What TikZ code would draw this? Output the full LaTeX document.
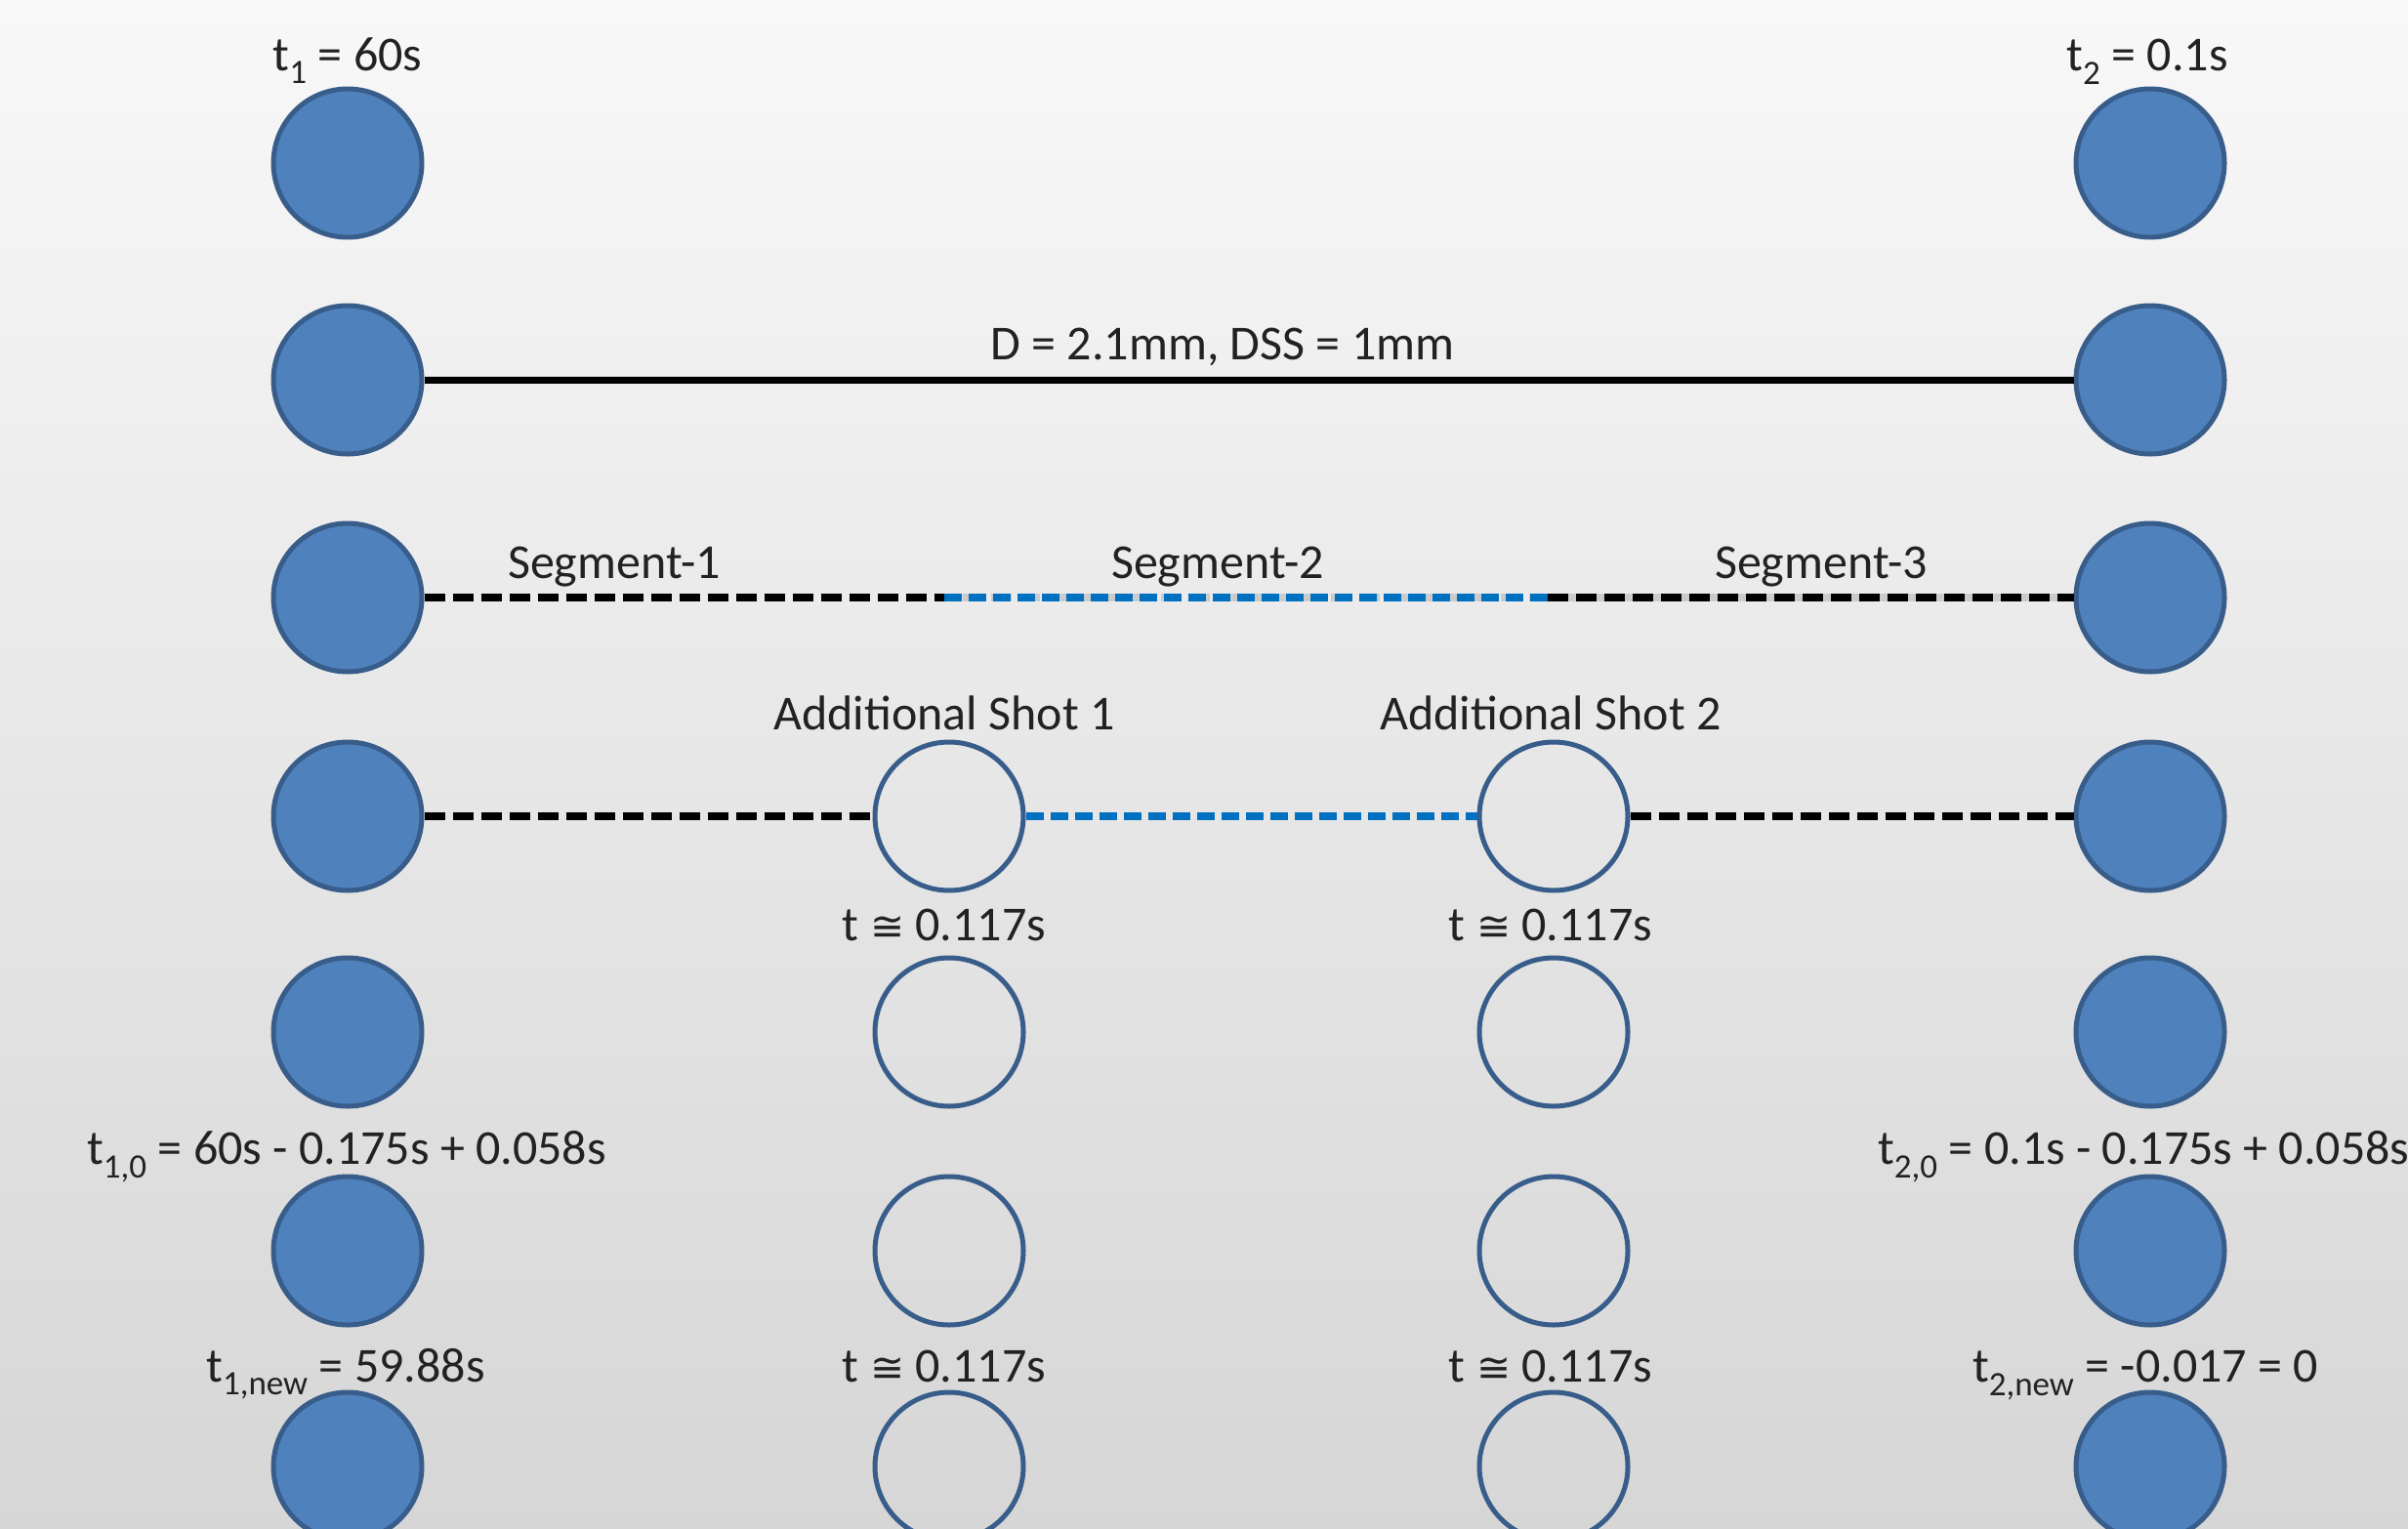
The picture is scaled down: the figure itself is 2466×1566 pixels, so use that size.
\documentclass[tikz,border=0pt]{standalone}
\usepackage{fontspec}
\setmainfont{Carlito}
\newfontfamily\djv{DejaVu Sans}
\definecolor{cfill}{HTML}{4F81BD}
\definecolor{cedge}{HTML}{385D8A}
\definecolor{cblue}{HTML}{0070C0}
\definecolor{ctext}{HTML}{222222}
\definecolor{bgtop}{HTML}{F8F8F8}
\definecolor{bgbot}{HTML}{D6D6D6}
\newcommand{\approxeq}{{\djv\fontsize{42}{50}\selectfont ≅}}
\tikzset{
  shot/.style={circle, draw=cedge, fill=cfill, line width=5pt, minimum size=152pt, inner sep=0pt},
  newshot/.style={circle, draw=cedge, line width=5pt, minimum size=152pt, inner sep=0pt},
  lbl/.style={text=ctext, font=\fontsize{50}{60}\selectfont, inner sep=0pt, anchor=base},
  solidln/.style={line width=7pt, black},
  blkdash/.style={line width=8pt, black, dash pattern=on 21pt off 8pt},
  bludash/.style={line width=8pt, cblue, dash pattern=on 18pt off 7pt},
  shadowln/.style={line width=8pt, black!30, opacity=0.55, yshift=-12pt}
}
\begin{document}
\begin{tikzpicture}[x=1pt,y=-1pt]
\useasboundingbox (0,0) rectangle (2466,1566);
\shade[top color=bgtop, bottom color=bgbot] (0,0) rectangle (2466,1566);
\clip (0,0) rectangle (2466,1566);

% columns: 356, 972, 1591, 2202 ; rows: 167, 389, 612, 836, 1057, 1281, 1502
\foreach \r/\y in {1/167,2/389,3/612,4/836,5/1057,6/1281,7/1502}{
  \node[shot] (L\r) at (356,\y) {};
  \node[shot] (R\r) at (2202,\y) {};
}
\foreach \r/\y in {4/836,5/1057,6/1281,7/1502}{
  \node[newshot] (A\r) at (972,\y) {};
  \node[newshot] (B\r) at (1591,\y) {};
}
\coordinate (m1) at (967,612);
\coordinate (m2) at (1585,612);

% shadows
\draw[shadowln] (L2) -- (R2);
\draw[shadowln, dash pattern=on 21pt off 8pt] (L3) -- (R3);
\draw[shadowln, dash pattern=on 21pt off 8pt] (L4) -- (A4);
\draw[shadowln, dash pattern=on 18pt off 7pt] (A4) -- (B4);
\draw[shadowln, dash pattern=on 21pt off 8pt] (B4) -- (R4);

% connectors
\draw[solidln] (L2) -- (R2);
\draw[blkdash] (L3) -- (m1);
\draw[bludash] (m1) -- (m2);
\draw[blkdash] (m2) -- (R3);
\draw[blkdash] (L4) -- (A4);
\draw[bludash] (A4) -- (B4);
\draw[blkdash] (B4) -- (R4);

% labels (anchored at baseline)
\node[lbl] (t1) at (356,72) {t\textsubscript{1} = 60s};
\node[lbl] (t2) at (2199,72) {t\textsubscript{2} = 0.1s};
\node[lbl] (dl) at (1252,368) {D = 2.1mm, DSS = 1mm};
\node[lbl] (s1) at (629,592) {Segment-1};
\node[lbl] (s2) at (1247,592) {Segment-2};
\node[lbl] (s3) at (1865,592) {Segment-3};
\node[lbl] (as1) at (967,747) {Additional Shot 1};
\node[lbl] (as2) at (1588,747) {Additional Shot 2};
\node[lbl] (ta5) at (967,963) {t \approxeq{} 0.117s};
\node[lbl] (tb5) at (1588,963) {t \approxeq{} 0.117s};
\node[lbl] (t10) at (355,1192) {t\textsubscript{1,0} = 60s - 0.175s + 0.058s};
\node[lbl, anchor=base west] (t20) at (1923,1192) {t\textsubscript{2,0} = 0.1s - 0.175s + 0.058s};
\node[lbl] (t1n) at (354,1415) {t\textsubscript{1,new} = 59.88s};
\node[lbl] (ta7) at (967,1415) {t \approxeq{} 0.117s};
\node[lbl] (tb7) at (1588,1415) {t \approxeq{} 0.117s};
\node[lbl] (t2n) at (2197,1415) {t\textsubscript{2,new} = -0.017 = 0};
\end{tikzpicture}
\end{document}
